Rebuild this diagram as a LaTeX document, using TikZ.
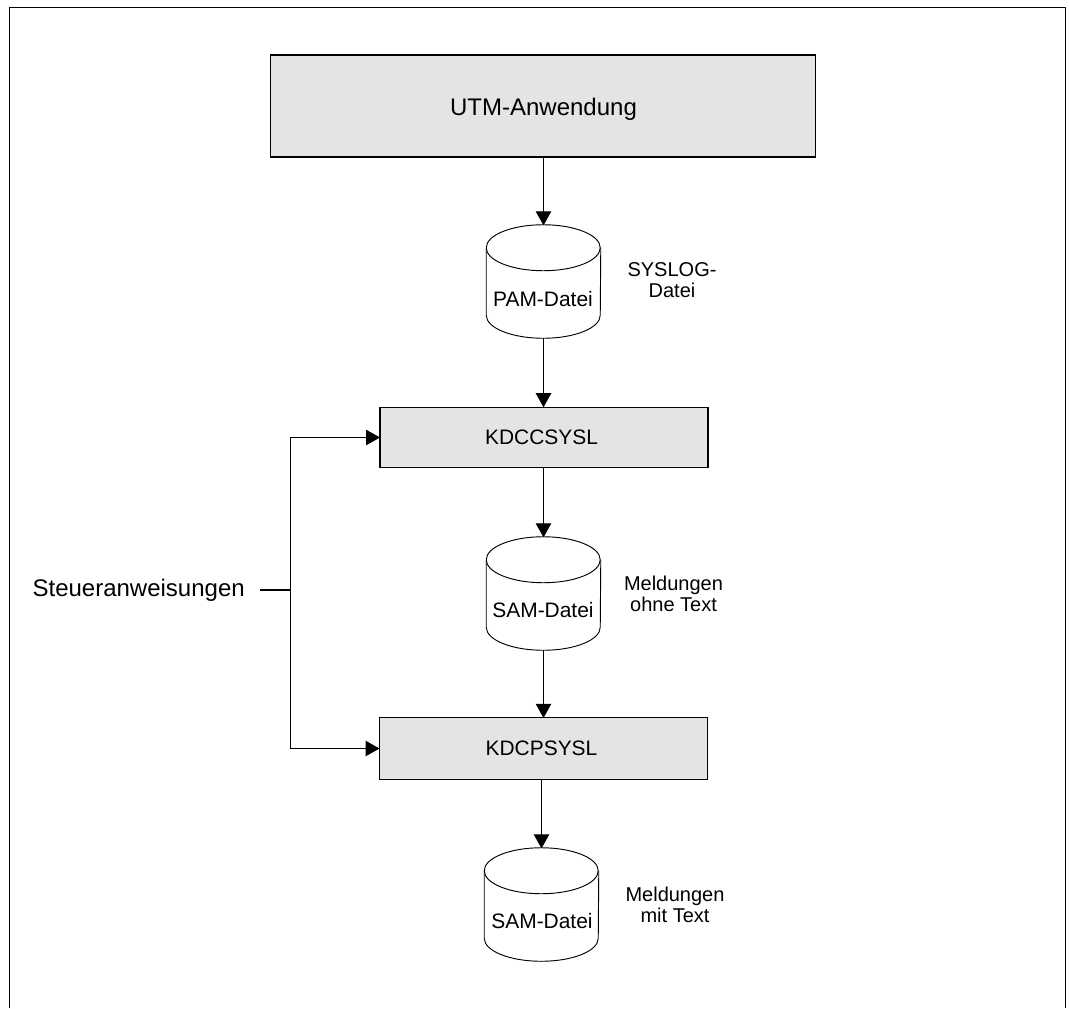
\documentclass[tikz,border=0pt]{standalone}
\usepackage{fontspec}
\setmainfont{Liberation Sans}
\usetikzlibrary{arrows.meta}
\definecolor{boxgray}{HTML}{E4E4E4}
\tikzset{
  boxnode/.style={draw=black,fill=boxgray,line width=0.9pt,inner sep=0pt,text=black},
  disknode/.style={inner sep=0pt,minimum width=85.5pt,minimum height=84.75pt,text depth=0pt},
  diskline/.style={draw=black,line width=0.7pt},
  flow/.style={draw=black,line width=0.8pt,-{Triangle[length=10.5pt,width=11.5pt]},shorten >=-0.5pt},
  plainline/.style={draw=black,line width=0.8pt},
  note/.style={align=center,font=\fontsize{15pt}{15.6pt}\selectfont,inner sep=0pt},
  small/.style={font=\fontsize{15.7pt}{15.7pt}\selectfont},
  big/.style={font=\fontsize{18pt}{18pt}\selectfont},
  frameline/.style={draw=black,line width=1pt}
}
\newcommand{\diskshape}[1]{%
  \draw[diskline] (#1.north west)++(0,-17.25pt) coordinate (#1tl)
     -- ([yshift=17.25pt]#1.south west)
     arc[start angle=180,end angle=360,x radius=42.75pt,y radius=17.25pt]
     -- ([yshift=-17.25pt]#1.north east);
  \draw[diskline] (#1tl) arc[start angle=180,end angle=-180,x radius=42.75pt,y radius=17.25pt];
}
\begin{document}
\begin{tikzpicture}[x=0.75pt,y=-0.75pt]
\useasboundingbox (0,0) rectangle (1069,1008);
\draw[frameline] (9.5,1008) -- (9.5,7.5) -- (1065.5,7.5) -- (1065.5,1008);
\node[boxnode,minimum width=409pt,minimum height=76.5pt] (utm) at (543,106) {};
\node[big] (utmlabel) at (543.5,109) {UTM-Anwendung};
\node[disknode] (pam) at (543.5,281.5) {};
\diskshape{pam}
\node[small] (pamlabel) at (543,299) {PAM-Datei};
\node[note] (syslog) at (672,280.5) {SYSLOG-\\Datei};
\node[boxnode,minimum width=246pt,minimum height=45.5pt,small] (kc) at (544,437.5) {\hspace*{-3.75pt}KDCCSYSL};
\node[disknode] (sam1) at (543.5,593.5) {};
\diskshape{sam1}
\node[small] (sam1label) at (543,610) {SAM-Datei};
\node[note] (m1) at (673.5,593.7) {Meldungen\\ohne Text};
\node[boxnode,minimum width=246pt,minimum height=46pt,small] (kp) at (543.5,748.5) {\hspace*{-3pt}KDCPSYSL};
\node[disknode] (sam2) at (541.5,904.5) {};
\diskshape{sam2}
\node[small] (sam2label) at (542,920.5) {SAM-Datei};
\node[note] (m2) at (675,905.2) {Meldungen\\mit Text};
\node[anchor=east,big,inner sep=0pt] (st) at (245,590) {Steueranweisungen};
\coordinate (j) at (290.5,590);
\draw[flow] (utm.south -| pam.north) -- (pam.north);
\draw[flow] (pam.south) -- (kc.north -| pam.south);
\draw[flow] (kc.south -| sam1.north) -- (sam1.north);
\draw[flow] (sam1.south) -- (kp.north -| sam1.south);
\draw[flow] (kp.south -| sam2.north) -- (sam2.north);
\draw[plainline] ([xshift=11.25pt]st.east) -- (j);
\draw[flow] (j) |- (kc.west);
\draw[flow] (j) |- (kp.west);
\end{tikzpicture}
\end{document}
